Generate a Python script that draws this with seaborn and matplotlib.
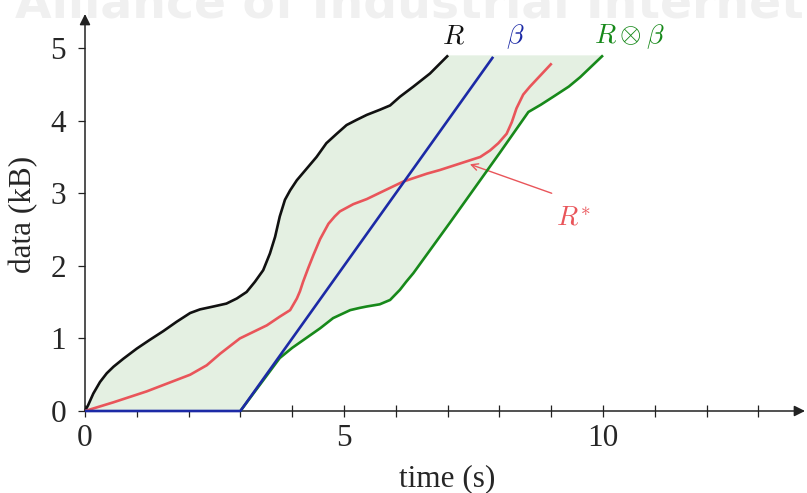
import matplotlib
matplotlib.use("Agg")
import matplotlib.pyplot as plt
import seaborn as sns
import pandas as pd

# ---------------- data ----------------
# arrival curve R (black)
r_time = [0, 0.06, 0.16, 0.29, 0.42, 0.55, 0.74, 1.0, 1.25, 1.51, 1.77, 2.03, 2.22,
          2.48, 2.73, 2.93, 3.12, 3.28, 3.44, 3.57, 3.67, 3.76, 3.86, 3.96, 4.09,
          4.28, 4.47, 4.66, 4.86, 5.05, 5.24, 5.44, 5.69, 5.89, 6.08, 6.34, 6.66, 7.01]
r_data = [0, 0.08, 0.24, 0.40, 0.52, 0.61, 0.72, 0.86, 0.98, 1.10, 1.23, 1.35, 1.40,
          1.44, 1.48, 1.55, 1.64, 1.78, 1.94, 2.17, 2.40, 2.68, 2.91, 3.04, 3.18,
          3.34, 3.50, 3.69, 3.82, 3.94, 4.01, 4.08, 4.15, 4.21, 4.33, 4.47, 4.65, 4.90]

# service curve beta (blue)
b_time = [0, 3.0, 7.88]
b_data = [0, 0.0, 4.88]

# output bound R (x) beta (green)
g_time = [3.0, 3.76, 4.0, 4.3, 4.54, 4.79, 5.12, 5.3, 5.44, 5.69, 5.89, 6.08, 6.2,
          6.34, 7.05, 8.01, 8.56, 8.8, 9.04, 9.34, 9.56, 10.0]
g_data = [0, 0.73, 0.87, 1.02, 1.14, 1.28, 1.39, 1.42, 1.44, 1.47, 1.53, 1.67, 1.78,
          1.90, 2.60, 3.56, 4.12, 4.22, 4.33, 4.47, 4.60, 4.90]

# actual output R* (red)
s_time = [0, 0.55, 1.19, 2.03, 2.35, 2.61, 2.99, 3.25, 3.51, 3.76, 3.96, 4.09, 4.15,
          4.21, 4.31, 4.41, 4.54, 4.70, 4.82, 4.92, 5.18, 5.44, 5.76, 6.14, 6.60,
          6.85, 7.24, 7.63, 7.82, 7.98, 8.14, 8.24, 8.33, 8.46, 8.59, 9.01]
s_data = [0, 0.12, 0.27, 0.50, 0.63, 0.79, 1.0, 1.09, 1.18, 1.30, 1.39, 1.55, 1.65,
          1.78, 1.97, 2.15, 2.37, 2.58, 2.68, 2.75, 2.85, 2.92, 3.03, 3.16, 3.27,
          3.32, 3.41, 3.50, 3.59, 3.69, 3.82, 3.98, 4.17, 4.36, 4.47, 4.79]

top_level = 4.90           # top edge of the shaded region
x_ticks = list(range(0, 14))
x_ticklabels = ['0', '', '', '', '', '5', '', '', '', '', '10', '', '', '']
y_ticks = [0, 1, 2, 3, 4, 5]
y_ticklabels = ['0', '1', '2', '3', '4', '5']

# ---------------- style ----------------
sns.set_style("white")
plt.rcParams['font.family'] = ['Liberation Serif', 'DejaVu Serif']
plt.rcParams['mathtext.fontset'] = 'cm'

C_R = '#111111'
C_B = '#1c2aa6'
C_G = '#17891a'
C_S = '#e9555a'
C_FILL = '#e4f0e2'
C_AX = '#222222'

fig = plt.figure(figsize=(8.07, 4.93), dpi=100)
fig.text(15 / 807, 1 - 18 / 493, 'Alliance of Industrial Internet', fontsize=34,
         weight='bold', color='#f0f0f0', family='DejaVu Sans', va='baseline', zorder=0)

ax = fig.add_axes([85 / 807, 82 / 493, 720 / 807, 397 / 493])
ax.patch.set_alpha(0)
ax.set_xlim(0, 13.9)
ax.set_ylim(0, 5.47)

# shaded region between R and R (x) beta
poly_x = r_time + [g_time[-1]] + g_time[::-1] + [0]
poly_y = r_data + [top_level] + g_data[::-1] + [0]
ax.fill(poly_x, poly_y, color=C_FILL, lw=0, zorder=1)

df_r = pd.DataFrame({'t': r_time, 'v': r_data})
df_b = pd.DataFrame({'t': b_time, 'v': b_data})
df_g = pd.DataFrame({'t': g_time, 'v': g_data})
df_s = pd.DataFrame({'t': s_time, 'v': s_data})

lw = 1.9
for df, c in [(df_r, C_R), (df_s, C_S), (df_g, C_G), (df_b, C_B)]:
    sns.lineplot(data=df, x='t', y='v', ax=ax, color=c, lw=lw, sort=False,
                 estimator=None, zorder=4, clip_on=False,
                 solid_joinstyle='round', solid_capstyle='butt')

# axes with arrows
for s in ax.spines.values():
    s.set_visible(False)
ax.annotate('', xy=(1.0, 0), xytext=(0, 0), xycoords='axes fraction',
            arrowprops=dict(arrowstyle='-|>', color=C_AX, lw=1.1, shrinkA=0, shrinkB=0,
                            mutation_scale=16), annotation_clip=False, zorder=3)
ax.annotate('', xy=(0, 1.0), xytext=(0, 0), xycoords='axes fraction',
            arrowprops=dict(arrowstyle='-|>', color=C_AX, lw=1.1, shrinkA=0, shrinkB=0,
                            mutation_scale=16), annotation_clip=False, zorder=3)

ax.set_xticks(x_ticks)
ax.set_xticklabels(x_ticklabels)
ax.set_yticks(y_ticks)
ax.set_yticklabels(y_ticklabels)
ax.tick_params(axis='x', direction='inout', length=8, width=0.9, color=C_AX,
               labelsize=22.5, pad=5.5, bottom=True)
ax.tick_params(axis='y', direction='out', length=5, width=0.9, color=C_AX,
               labelsize=22.5, pad=8.5, left=True)
ax.grid(False)

ax.set_xlabel('time (s)', fontsize=22.5)
ax.xaxis.set_label_coords(0.503, -0.171)
ax.xaxis.label.set_va('center')
ax.set_ylabel('data (kB)', fontsize=22.5)
ax.yaxis.set_label_coords(-0.086, 0.494)
ax.yaxis.label.set_va('center')

# curve labels
ax.text(7.12, 5.07, r'$R$', color=C_R, fontsize=20, ha='center', va='baseline')
ax.text(8.3, 5.07, r'$\beta$', color=C_B, fontsize=20, ha='center', va='baseline')
ax.text(10.52, 5.07, r'$R\otimes\beta$', color=C_G, fontsize=20, ha='center', va='baseline')
ax.text(9.42, 2.55, r'$R^{*}$', color=C_S, fontsize=20, ha='center', va='baseline')
ax.annotate('', xy=(7.43, 3.40), xytext=(9.01, 3.0),
            arrowprops=dict(arrowstyle='->', color=C_S, lw=1.0, shrinkA=0, shrinkB=0,
                            mutation_scale=12))

fig.savefig('out.png', dpi=100)
